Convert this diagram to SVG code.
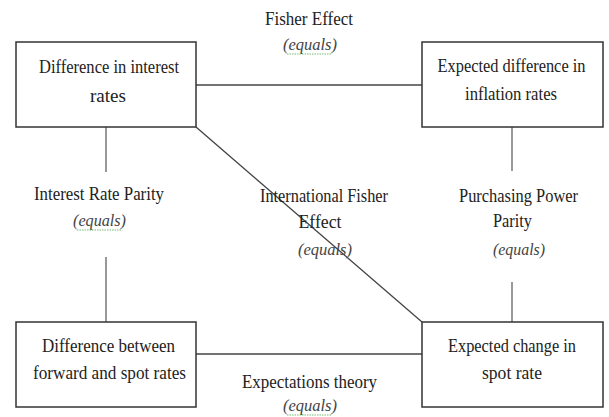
<svg xmlns="http://www.w3.org/2000/svg" width="609" height="417" viewBox="0 0 609 417">
<style>
.box{fill:#fff;stroke:#333;stroke-width:1.5}
text{font-family:"Liberation Serif","DejaVu Serif",serif;font-size:19px;fill:#222;text-anchor:middle}
.i{font-style:italic;fill:#444;font-size:16px}
.c{stroke:#444;stroke-width:1.3;fill:none}
.v{stroke:#777;stroke-width:1.5;fill:none}
.sq{stroke:#7b7;stroke-width:1;stroke-dasharray:1.5 1;fill:none}
</style>
<rect width="609" height="417" fill="#fff"/>
<g id="connectors">
<line class="c" x1="196" y1="85" x2="422" y2="85"/>
<line class="c" x1="196" y1="354" x2="422" y2="354"/>
<line class="v" x1="106" y1="127" x2="106" y2="172"/>
<line class="v" x1="106" y1="257" x2="106" y2="322"/>
<line class="v" x1="512" y1="127" x2="512" y2="171"/>
<line class="v" x1="512" y1="282" x2="512" y2="322"/>
<line class="c" x1="196" y1="127" x2="422" y2="322"/>
</g>
<g id="labels">
<text x="309" y="25" textLength="88" lengthAdjust="spacingAndGlyphs">Fisher Effect</text>
<text class="i" x="310" y="50" textLength="54" lengthAdjust="spacingAndGlyphs">(equals)</text>
<path class="sq" d="M287 54 L332 54"/>
<text x="99" y="200" textLength="130" lengthAdjust="spacingAndGlyphs">Interest Rate Parity</text>
<text class="i" x="99.5" y="226" textLength="53" lengthAdjust="spacingAndGlyphs">(equals)</text>
<path class="sq" d="M77 230 L122 230"/>
<text x="324" y="202" textLength="128" lengthAdjust="spacingAndGlyphs">International Fisher</text>
<text x="320" y="228" textLength="43" lengthAdjust="spacingAndGlyphs">Effect</text>
<text class="i" x="325" y="255" textLength="54" lengthAdjust="spacingAndGlyphs">(equals)</text>
<text x="518.5" y="202" textLength="119" lengthAdjust="spacingAndGlyphs">Purchasing Power</text>
<text x="512.5" y="227" textLength="39" lengthAdjust="spacingAndGlyphs">Parity</text>
<text class="i" x="519" y="255" textLength="52" lengthAdjust="spacingAndGlyphs">(equals)</text>
<text x="309.5" y="388" textLength="135" lengthAdjust="spacingAndGlyphs">Expectations theory</text>
<text class="i" x="310" y="411" textLength="54" lengthAdjust="spacingAndGlyphs">(equals)</text>
<path class="sq" d="M287 415 L332 415"/>
</g>
<g id="n1">
<rect class="box" x="16" y="42" width="180" height="85"/>
<text x="109" y="73" textLength="140" lengthAdjust="spacingAndGlyphs">Difference in interest</text>
<text x="108" y="102" textLength="36" lengthAdjust="spacingAndGlyphs">rates</text>
</g>
<g id="n2">
<rect class="box" x="422" y="42" width="181" height="85"/>
<text x="511.5" y="72" textLength="148" lengthAdjust="spacingAndGlyphs">Expected difference in</text>
<text x="511" y="100" textLength="92" lengthAdjust="spacingAndGlyphs">inflation rates</text>
</g>
<g id="n3">
<rect class="box" x="16" y="322" width="180" height="85"/>
<text x="108.5" y="352" textLength="133" lengthAdjust="spacingAndGlyphs">Difference between</text>
<text x="109.5" y="379" textLength="153" lengthAdjust="spacingAndGlyphs">forward and spot rates</text>
</g>
<g id="n4">
<rect class="box" x="422" y="322" width="181" height="85"/>
<text x="512" y="352" textLength="128" lengthAdjust="spacingAndGlyphs">Expected change in</text>
<text x="512" y="379" textLength="60" lengthAdjust="spacingAndGlyphs">spot rate</text>
</g>
</svg>
